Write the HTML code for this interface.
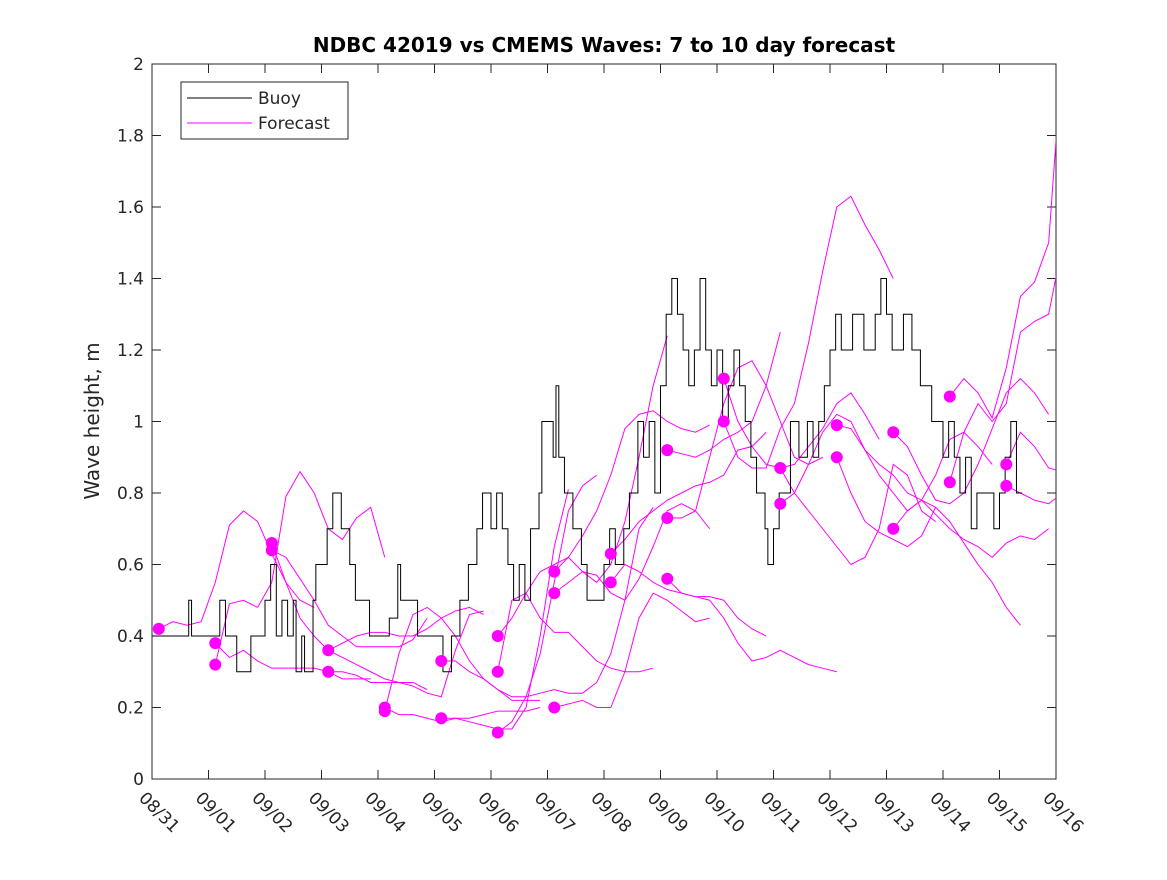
<!DOCTYPE html>
<html><head><meta charset="utf-8"><style>
body{margin:0;background:#fff}
svg text{font-family:"DejaVu Sans","Liberation Sans",sans-serif;fill:#262626}
</style></head><body>
<svg id="chart" width="1167" height="875" xmlns="http://www.w3.org/2000/svg">
<defs><clipPath id="clip"><rect x="152" y="64" width="904" height="715"/></clipPath></defs>
<rect width="1167" height="875" fill="#fff"/>
<text x="604" y="52" text-anchor="middle" font-size="20" font-weight="bold" style="fill:#000">NDBC 42019 vs CMEMS Waves: 7 to 10 day forecast</text>
<text transform="translate(99,421) rotate(-90)" text-anchor="middle" font-size="20">Wave height, m</text>
<g id="plot"></g>
<g>
<rect x="181" y="82" width="167" height="57" fill="#fff" stroke="#262626" stroke-width="1"/>
<line x1="187" y1="98" x2="252" y2="98" stroke="#000"/>
<text x="258" y="104" font-size="17">Buoy</text>
<line x1="187" y1="123" x2="252" y2="123" stroke="#f0f"/>
<text x="258" y="129" font-size="17">Forecast</text>
</g>
</svg>
<script>
const xTickLabels=["08/31","09/01","09/02","09/03","09/04","09/05","09/06","09/07","09/08","09/09","09/10","09/11","09/12","09/13","09/14","09/15","09/16"];
const yTicks=[0,0.2,0.4,0.6,0.8,1,1.2,1.4,1.6,1.8,2];
const buoyDays=[0,0.65,0.7,1.2,1.3,1.5,1.75,2.0,2.1,2.2,2.3,2.4,2.5,2.55,2.65,2.7,2.85,2.9,3.1,3.2,3.35,3.5,3.6,3.85,4.2,4.35,4.4,4.7,5.15,5.3,5.45,5.6,5.75,5.85,6.0,6.1,6.2,6.3,6.4,6.5,6.6,6.7,6.85,6.9,7.1,7.15,7.2,7.3,7.45,7.6,7.7,8.0,8.1,8.2,8.35,8.45,8.6,8.7,8.8,8.9,9.0,9.1,9.2,9.3,9.4,9.5,9.6,9.7,9.8,9.9,10.0,10.1,10.2,10.3,10.4,10.5,10.6,10.7,10.85,10.9,11.0,11.1,11.3,11.45,11.6,11.7,11.8,11.9,12.0,12.1,12.2,12.4,12.6,12.8,12.9,13.0,13.1,13.3,13.45,13.6,13.8,14.0,14.1,14.2,14.3,14.4,14.5,14.6,14.9,15.0,15.1,15.2,15.3];
const buoyVals=[0.4,0.5,0.4,0.5,0.4,0.3,0.4,0.5,0.6,0.4,0.5,0.4,0.5,0.3,0.4,0.3,0.5,0.6,0.7,0.8,0.7,0.6,0.5,0.4,0.45,0.6,0.5,0.4,0.3,0.4,0.5,0.6,0.7,0.8,0.7,0.8,0.7,0.6,0.5,0.6,0.5,0.7,0.8,1.0,0.9,1.1,0.9,0.8,0.7,0.6,0.5,0.6,0.7,0.6,0.7,0.8,1.0,0.9,1.0,0.8,1.1,1.3,1.4,1.3,1.2,1.1,1.2,1.4,1.2,1.1,1.2,1.0,1.1,1.2,1.1,1.0,0.9,0.8,0.7,0.6,0.7,0.8,1.0,0.9,1.0,0.9,1.0,1.1,1.2,1.3,1.2,1.3,1.2,1.3,1.4,1.3,1.2,1.3,1.2,1.1,1.0,0.9,1.0,0.9,0.8,0.9,0.7,0.8,0.7,0.8,0.9,1.0,0.8];
const fcStarts=[0.12,1.12,1.12,2.12,2.12,3.12,3.12,4.12,4.12,5.12,5.12,6.12,6.12,6.12,7.12,7.12,7.12,8.12,8.12,9.12,9.12,9.12,10.12,10.12,11.12,11.12,12.12,12.12,13.12,13.12,14.12,14.12,15.12,15.12];
const fcVals=[
[0.42,0.44,0.43,0.44,0.55,0.71,0.75,0.72,0.63,0.55,0.50,0.48],
[0.38,0.34,0.36,0.33,0.31,0.31,0.31,0.31,0.30,0.28,0.28,0.28],
[0.32,0.49,0.50,0.48,0.55,0.79,0.86,0.80,0.70,0.67,0.73,0.76,0.62],
[0.66,0.55,0.45,0.40,0.36,0.34,0.32,0.30,0.28,0.27,0.27,0.25],
[0.64,0.62,0.56,0.50,0.43,0.40,0.37,0.37,0.37,0.37,0.39,0.45],
[0.36,0.38,0.40,0.41,0.41,0.40,0.40,0.42,0.45,0.47,0.48,0.46],
[0.30,0.30,0.29,0.27,0.27,0.27,0.26,0.24,0.23,0.36,0.46,0.47],
[0.20,0.18,0.18,0.17,0.16,0.17,0.17,0.18,0.19,0.19,0.19,0.20],
[0.19,0.35,0.46,0.48,0.45,0.40,0.33,0.28,0.25,0.22,0.22,0.22],
[0.33,0.33,0.30,0.28,0.25,0.23,0.23,0.35,0.55,0.75,0.82,0.85],
[0.17,0.17,0.16,0.15,0.14,0.14,0.20,0.40,0.65,0.81],
[0.30,0.50,0.52,0.45,0.41,0.41,0.37,0.33,0.31,0.30,0.30,0.31],
[0.13,0.16,0.23,0.24,0.25,0.24,0.24,0.27,0.35,0.50,0.70,0.76],
[0.40,0.45,0.52,0.58,0.60,0.62,0.58,0.55,0.60,0.72,0.90,1.10,1.24],
[0.52,0.55,0.58,0.57,0.52,0.50,0.56,0.65,0.75,0.77,0.75,0.70],
[0.20,0.21,0.22,0.20,0.20,0.30,0.45,0.52,0.50,0.47,0.44,0.45],
[0.58,0.62,0.68,0.75,0.85,0.98,1.02,1.03,1.00,0.98,0.97,0.99],
[0.63,0.67,0.72,0.75,0.78,0.80,0.82,0.83,0.85,0.92,0.93,0.97],
[0.55,0.60,0.58,0.55,0.53,0.52,0.51,0.51,0.50,0.45,0.42,0.40],
[0.92,0.91,0.90,0.92,0.95,0.97,1.00,1.10,1.25],
[0.56,0.52,0.51,0.50,0.45,0.38,0.33,0.34,0.36,0.34,0.32,0.31,0.30],
[0.73,0.73,0.75,0.90,1.05,1.15,1.17,1.10,1.00,0.90,0.88,0.90],
[1.12,1.00,0.93,0.88,0.87,0.88,0.93,0.98,1.05,1.08,1.02,0.95],
[1.00,0.90,0.87,0.87,0.98,1.05,1.22,1.42,1.60,1.63,1.55,1.48,1.40],
[0.87,0.80,0.75,0.70,0.65,0.60,0.62,0.70,0.88,0.85,0.75,0.72],
[0.77,0.80,0.88,0.97,1.02,1.00,0.92,0.85,0.80,0.75,0.78,0.76],
[0.99,0.98,0.92,0.88,0.85,0.80,0.78,0.85,0.95,0.97,0.93,0.88],
[0.90,0.80,0.72,0.69,0.67,0.65,0.68,0.76,0.72,0.66,0.60,0.55,0.48,0.43],
[0.97,0.93,0.85,0.78,0.77,0.80,0.88,0.98,1.08,1.12,1.08,1.02],
[0.70,0.75,0.78,0.74,0.70,0.67,0.65,0.62,0.66,0.68,0.67,0.70],
[1.07,1.12,1.08,1.01,1.15,1.35,1.39,1.50,2.05],
[0.83,0.97,1.05,1.00,1.05,1.25,1.28,1.30,1.50],
[0.88,0.97,0.93,0.87,0.86,0.92],
[0.82,0.80,0.78,0.77,0.80]];
const X0=152,X1=1056,Y0=779,Y1=64;
const xs=d=>X0+d*(X1-X0)/16, ys=v=>Y0-v*(Y0-Y1)/2;
const NS="http://www.w3.org/2000/svg", g=document.getElementById('plot');
function mk(t,a,p){const e=document.createElementNS(NS,t);for(const k in a)e.setAttribute(k,a[k]);(p||g).appendChild(e);return e;}
const frame=mk('rect',{x:X0,y:Y1,width:X1-X0,height:Y0-Y1,fill:'none',stroke:'#262626','stroke-width':1});


xTickLabels.forEach((l,i)=>{const x=xs(i);
 mk('line',{x1:x,y1:Y0,x2:x,y2:Y0-9,stroke:'#262626'});mk('line',{x1:x,y1:Y1,x2:x,y2:Y1+9,stroke:'#262626'});
 const t=mk('text',{transform:`translate(${x-14},${Y0+20}) rotate(45)`,'font-size':17});t.textContent=l;
 
 });
yTicks.forEach(v=>{const y=ys(v);
 mk('line',{x1:X0,y1:y,x2:X0+9,y2:y,stroke:'#262626'});mk('line',{x1:X1,y1:y,x2:X1-9,y2:y,stroke:'#262626'});
 const t=mk('text',{x:X0-8,y:y+6,'text-anchor':'end','font-size':17});t.textContent=String(v);
 
 });
const cg=mk('g',{'clip-path':'url(#clip)'});
fcVals.forEach((arr,i)=>{const s=fcStarts[i];
 const p=mk('polyline',{points:arr.map((v,j)=>xs(s+j*0.25)+','+ys(v)).join(' '),fill:'none',stroke:'#f0f','stroke-width':1},cg);
 
 });
let pts=[];buoyDays.forEach((d,i)=>{if(i>0)pts.push(xs(d)+','+ys(buoyVals[i-1]));pts.push(xs(d)+','+ys(buoyVals[i]));});
pts.push(xs(15.4)+','+ys(buoyVals[buoyVals.length-1]));
const b=mk('polyline',{points:pts.join(' '),fill:'none',stroke:'#000','stroke-width':1},cg);


fcVals.forEach((arr,i)=>{const c=mk('circle',{cx:xs(fcStarts[i]),cy:ys(arr[0]),r:6,fill:'#f0f'});
 
 });
</script>
</body></html>
